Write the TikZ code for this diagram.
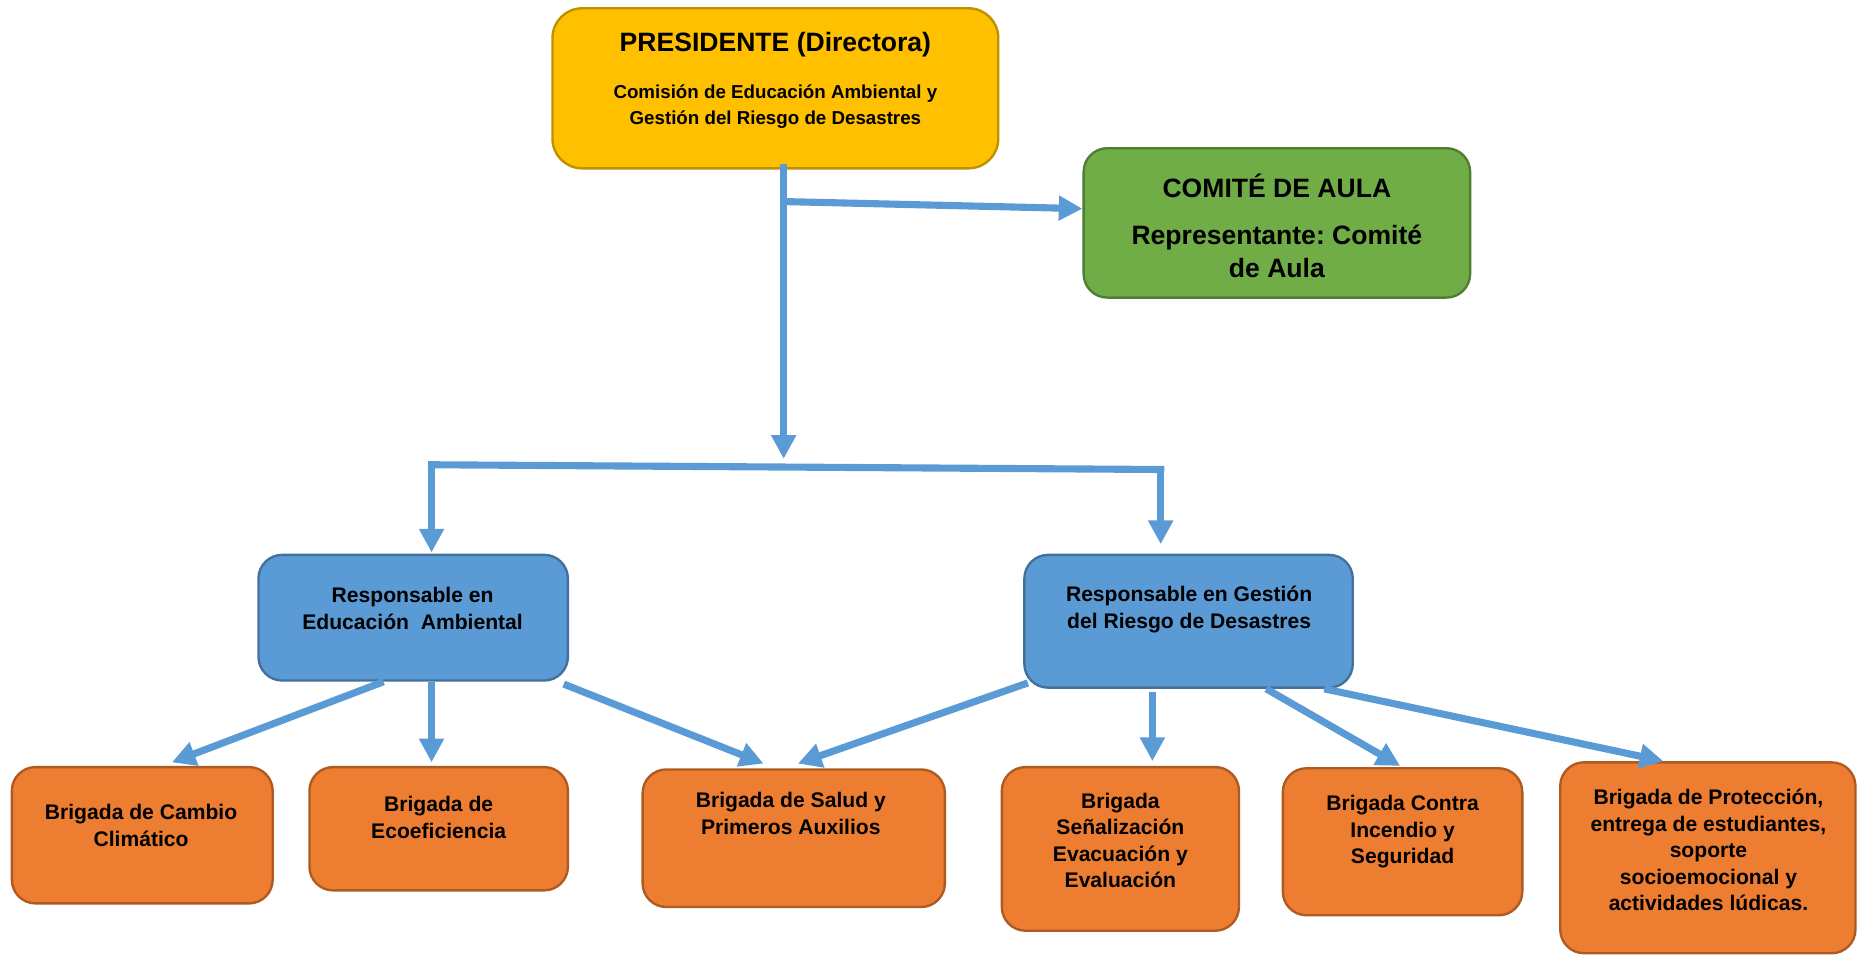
\documentclass[tikz,border=0pt]{standalone}
\usepackage{fontspec}
\setmainfont{Liberation Sans}
\frenchspacing
\usetikzlibrary{arrows.meta}
\definecolor{presfill}{HTML}{FFC000}
\definecolor{presline}{HTML}{BF9000}
\definecolor{aulafill}{HTML}{70AD47}
\definecolor{aulaline}{HTML}{507E32}
\definecolor{respfill}{HTML}{5B9BD5}
\definecolor{respline}{HTML}{41719C}
\definecolor{brigfill}{HTML}{ED7D31}
\definecolor{brigline}{HTML}{AE5A21}
\definecolor{linkblue}{HTML}{5B9BD5}
\tikzset{
  card/.style={draw, line width=2pt, rounded corners=20pt},
  presbox/.style={card, fill=presfill, draw=presline, rounded corners=25pt},
  aulabox/.style={card, fill=aulafill, draw=aulaline},
  respbox/.style={card, fill=respfill, draw=respline},
  brigbox/.style={card, fill=brigfill, draw=brigline},
  txt/.style={align=center, inner sep=0pt},
  bigtxt/.style={txt, font=\bfseries\fontsize{22.4}{28}\selectfont},
  smalltxt/.style={txt, font=\bfseries\fontsize{15.8}{22}\selectfont},
  midtxt/.style={txt, font=\bfseries\fontsize{17.8}{22.4}\selectfont},
  link/.style={draw=linkblue, line width=6pt},
  arr/.style={link, -{Triangle[length=20pt,width=20pt]}}
}
\begin{document}
\begin{tikzpicture}[x=1pt,y=-1pt]
\useasboundingbox (0,0) rectangle (1568,805.5);
% presidente y comite
\node[presbox, minimum width=376pt, minimum height=135pt] (pres) at (654,74.5) {};
\node[bigtxt] (pres-title) at (654,38) {PRESIDENTE (Directora)};
\node[smalltxt] (pres-sub) at (654,90) {Comisión de Educación Ambiental y\\Gestión del Riesgo de Desastres};
\node[aulabox, minimum width=326pt, minimum height=126pt] (aula) at (1077,188) {};
\node[bigtxt] (aula-title) at (1077,157) {COMITÉ DE AULA};
\node[bigtxt] (aula-sub) at (1077,212) {Representante: Comité\\de Aula};
% responsables
\node[respbox, minimum width=261pt, minimum height=106pt] (ea) at (348.5,521) {};
\node[midtxt] (ea-t) at (348,513) {Responsable en\\Educación\ \ Ambiental};
\node[respbox, minimum width=277pt, minimum height=112pt] (grd) at (1002.5,524) {};
\node[midtxt] (grd-t) at (1003,514) {Responsable en Gestión\\del Riesgo de Desastres};
% brigadas
\node[brigbox, minimum width=220pt, minimum height=115pt] (cambio) at (120,704.5) {};
\node[midtxt] (cambio-t) at (119,696) {Brigada de Cambio\\Climático};
\node[brigbox, minimum width=218pt, minimum height=104pt] (ecoef) at (370,699) {};
\node[midtxt] (ecoef-t) at (370,689.5) {Brigada de\\Ecoeficiencia};
\node[brigbox, minimum width=255pt, minimum height=116pt] (salud) at (669.5,707) {};
\node[midtxt] (salud-t) at (667,686) {Brigada de Salud y\\Primeros Auxilios};
\node[brigbox, minimum width=200pt, minimum height=138pt] (senal) at (945,716) {};
\node[midtxt] (senal-t) at (945,709) {Brigada\\Señalización\\Evacuación y\\Evaluación};
\node[brigbox, minimum width=202pt, minimum height=124pt] (contra) at (1183,710) {};
\node[midtxt] (contra-t) at (1183,701.5) {Brigada Contra\\Incendio y\\Seguridad};
\node[brigbox, minimum width=249pt, minimum height=161pt] (prot) at (1440.5,723.5) {};
\node[midtxt] (prot-t) at (1441,717) {Brigada de Protección,\\entrega de estudiantes,\\soporte\\socioemocional y\\actividades lúdicas.};
% conectores
\coordinate (split) at (661,387);
\coordinate (knee) at (661,170);
\coordinate (barL) at (364,392);
\coordinate (barR) at (979,396);
\draw[arr] ([xshift=7pt,yshift=5pt]pres.south) -- (split);
\draw[arr] (knee) -- ([yshift=12pt]aula.west);
\draw[link, line cap=rect] (barL) -- (barR);
\draw[arr] (barL) -- ([xshift=15.5pt,yshift=1pt]ea.north);
\draw[arr] (barR) -- ([xshift=-23.5pt,yshift=8pt]grd.north);
\draw[arr] ([xshift=-25pt]ea.south) -- ([xshift=25pt,yshift=3pt]cambio.north);
\draw[arr] ([xshift=15.5pt]ea.south) -- ([xshift=-6pt,yshift=3pt]ecoef.north);
\draw[arr] ([xshift=-4.5pt,yshift=-2pt]ea.south east) -- ([xshift=-25.5pt,yshift=4pt]salud.north);
\draw[arr] ([xshift=4pt,yshift=5pt]grd.south west) -- ([xshift=3.5pt,yshift=4pt]salud.north);
\draw[arr] ([xshift=-30.5pt,yshift=-3pt]grd.south) -- ([xshift=27pt,yshift=4pt]senal.north);
\draw[arr] ([xshift=65.5pt]grd.south) -- ([xshift=-2pt,yshift=1pt]contra.north);
\draw[arr] ([xshift=-25pt]grd.south east) -- ([xshift=-37.5pt]prot.north);
\end{tikzpicture}
\end{document}
